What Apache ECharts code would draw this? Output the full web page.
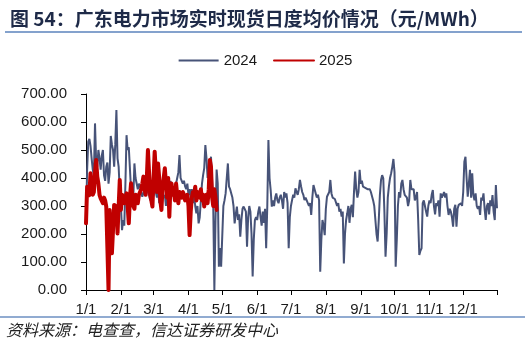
<!DOCTYPE html>
<html>
<head>
<meta charset="utf-8">
<script src="https://cdn.jsdelivr.net/npm/echarts@6/dist/echarts.min.js"></script>
<style>html,body{margin:0;padding:0;background:#fff;}#c{width:530px;height:361px;}</style>
</head>
<body>
<div id="c"></div>
<script>
// Month tick labels and their day index in 2024 (leap year)
const monthLabels = ["1/1","2/1","3/1","4/1","5/1","6/1","7/1","8/1","9/1","10/1","11/1","12/1"];
const monthStartIdx = [0,31,60,91,121,152,182,213,244,274,305,335];
const daysInMonth = [31,29,31,30,31,30,31,31,30,31,30,31];

// Daily categories (M/D)
const categories = [];
daysInMonth.forEach((n, m) => { for (let d = 1; d <= n; d++) categories.push((m + 1) + "/" + d); });

// 2024 daily average price (元/MWh)
const s2024 = [
// Jan
240,430,530,540,515,470,430,410,595,460,440,500,470,430,480,500,410,390,440,455,380,420,550,520,500,440,520,643,470,440,350,
// Feb
300,214,250,230,380,553,500,510,512,357,298,330,452,400,393,360,380,370,350,333,340,360,393,380,350,340,320,360,330,
// Mar
340,370,350,330,360,310,350,380,360,330,340,300,350,380,360,390,340,370,350,330,380,400,420,482,400,390,380,390,370,360,380,
// Apr
340,360,330,360,310,340,300,274,300,238,260,320,380,410,435,518,470,400,393,440,476,390,300,0,250,430,380,83,150,83,
// May
83,300,320,345,400,452,369,360,345,330,300,238,270,298,250,270,190,250,290,298,300,280,155,260,300,280,200,48,180,250,260,
// Jun
250,280,298,260,230,280,240,290,149,300,536,400,357,298,320,300,330,345,320,310,330,340,320,290,350,330,345,310,149,260,
// Jul
300,321,340,330,363,350,340,360,393,370,350,340,321,330,320,325,300,310,268,330,375,360,345,330,340,320,65,180,250,230,196,
// Aug
290,333,340,350,393,345,330,330,325,320,300,310,280,290,262,280,95,200,250,274,300,240,290,304,260,350,423,360,330,350,429,
// Sep
380,390,369,375,365,370,360,355,360,350,345,320,300,250,200,173,250,340,393,410,399,280,119,200,330,370,400,417,440,468,
// Oct
420,83,180,300,350,330,380,393,360,340,345,330,300,320,393,360,355,360,320,330,350,250,125,140,149,310,320,300,280,262,300,
// Nov
320,310,340,357,300,270,310,300,320,262,345,330,340,350,330,345,300,268,290,280,260,226,290,304,226,290,304,300,310,300,
// Dec
350,458,476,400,333,380,429,330,417,340,320,345,300,290,300,268,330,320,345,290,250,300,310,270,320,300,339,280,250,375,292
];

// 2025 daily average price (元/MWh), 1/1 to late April
const s2025 = [
238,369,350,339,417,380,340,350,420,464,405,380,340,327,320,310,330,320,298,150,0,286,200,131,214,304,300,298,202,300,393,
286,340,330,310,330,345,300,238,330,381,340,300,290,340,330,310,340,350,360,380,405,360,340,400,500,420,340,320,
298,400,494,420,350,452,400,320,286,370,400,435,380,330,400,262,370,380,340,350,320,380,340,310,350,340,330,350,340,320,330,
340,300,196,280,330,350,340,369,320,350,340,330,360,320,340,298,330,340,310,360,464,440,330,300,360,330,286
];

const chart = echarts.init(document.getElementById('c'), null, {renderer: 'canvas'});
const txt = '#1a1a1a';
chart.setOption({
  backgroundColor: '#fff',
  animation: false,
  title: {
    text: '图 54：广东电力市场实时现货日度均价情况（元/MWh）',
    left: 5, top: 4,
    textStyle: {fontSize: 19, fontWeight: 'bold', color: '#1e2a48', fontFamily: '"Noto Sans CJK SC", "Liberation Sans", sans-serif'}
  },
  graphic: [
    {type: 'line', shape: {x1: 5, y1: 32, x2: 522, y2: 32}, style: {stroke: '#5b83bd', lineWidth: 1.5}},
    {type: 'line', shape: {x1: 0, y1: 317, x2: 525, y2: 317}, style: {stroke: '#6d8fc2', lineWidth: 1.5}},
    {type: 'text', left: 6, top: 322, style: {text: '资料来源：电查查，信达证券研发中心', fontSize: 16, fontStyle: 'italic', fill: '#222', fontFamily: '"Noto Sans CJK SC", sans-serif'}}
  ],
  legend: {
    top: 48, left: 'center',
    itemWidth: 40, itemHeight: 12, itemGap: 16,
    itemStyle: {opacity: 0},
    textStyle: {fontSize: 15, color: txt, fontFamily: '"Liberation Sans", Arial, sans-serif'},
    data: ['2024', '2025']
  },
  grid: {left: 86, right: 33, top: 94, bottom: 71, containLabel: false},
  xAxis: {
    type: 'category',
    data: categories,
    boundaryGap: false,
    axisLine: {lineStyle: {color: '#000', width: 1}},
    axisTick: {
      length: 5, lineStyle: {color: '#000'},
      interval: (i) => monthStartIdx.indexOf(i) >= 0 || i === categories.length - 1
    },
    axisLabel: {
      interval: (i) => monthStartIdx.indexOf(i) >= 0,
      formatter: (v, i) => { const k = monthStartIdx.indexOf(i); return k >= 0 ? monthLabels[k] : ''; },
      fontSize: 15, color: txt, margin: 12,
      fontFamily: '"Liberation Sans", Arial, sans-serif'
    },
    splitLine: {show: false}
  },
  yAxis: {
    type: 'value', min: 0, max: 700, interval: 100,
    axisLine: {show: true, lineStyle: {color: '#000', width: 1}},
    axisTick: {show: true, length: 5, lineStyle: {color: '#000'}},
    axisLabel: {formatter: (v) => v.toFixed(2), fontSize: 15, color: txt, margin: 19, fontFamily: '"Liberation Sans", Arial, sans-serif'},
    splitLine: {show: false}
  },
  series: [
    {name: '2024', type: 'line', data: s2024, showSymbol: false, symbol: 'none', color: '#475378', lineStyle: {width: 2, color: '#475378'}, z: 2},
    {name: '2025', type: 'line', data: s2025, showSymbol: false, symbol: 'none', color: '#c00000', lineStyle: {width: 4, color: '#c00000', cap: 'round', join: 'round'}, z: 3}
  ]
});
</script>
</body>
</html>
